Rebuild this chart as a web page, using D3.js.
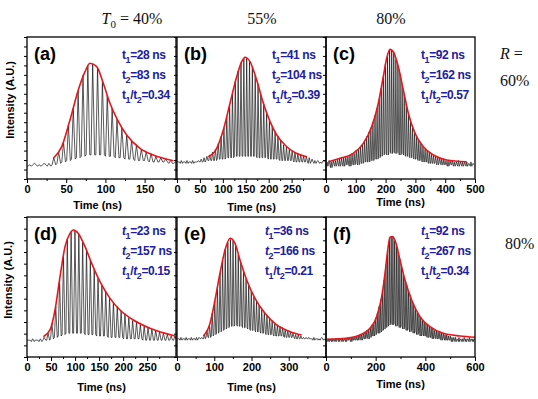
<!DOCTYPE html>
<html><head><meta charset="utf-8">
<script src="https://cdn.jsdelivr.net/npm/d3@7"></script>
<style>body{margin:0;background:#fff}</style>
</head><body><svg id="chart" width="538" height="399"></svg>
<script>
// ---------------- DATA ----------------
const panelNames = ["(a)","(b)","(c)","(d)","(e)","(f)"];
const colHeaders = ["40%","55%","80%"];
const rowHeaders = ["60%","80%"];
const t1Values = [28, 41, 92, 23, 36, 92];
const t2Values = [83, 104, 162, 157, 166, 267];
const ratioValues = ["0.34","0.39","0.57","0.15","0.21","0.34"];
const timeMax = [190, 325, 500, 310, 400, 600];
const aTicks = [0,50,100,150];
const bTicks = [0,50,100,150,200,250];
const cTicks = [0,100,200,300,400,500];
const dTicks = [0,50,100,150,200,250];
const eTicks = [0,100,200,300];
const fTicks = [0,200,400,600];

// red envelopes (time ns, normalised intensity)
const aEnvT = [33.6,44.3,54.8,65.4,74,80.3,88.9,97.3,105.8,114.4,127.1,144.1,161.1,186.6];
const aEnvV = [0.146,0.228,0.415,0.627,0.756,0.815,0.791,0.674,0.533,0.427,0.310,0.216,0.169,0.129];
const bEnvT = [68.3,86.6,101,115.6,130.2,141.1,148.3,159.2,173.8,188.4,203,217.6,239.4,261.2,283];
const bEnvV = [0.157,0.216,0.345,0.533,0.72,0.826,0.857,0.826,0.697,0.533,0.404,0.31,0.227,0.18,0.157];
const cEnvT = [7.8,47,91.6,125.2,153.2,175.4,192.2,203.6,214.8,225.9,242.7,259.5,276.3,298.7,326.8,360.4,405.1,472.2];
const cEnvV = [0.122,0.146,0.181,0.251,0.368,0.533,0.72,0.85,0.913,0.896,0.791,0.627,0.463,0.322,0.227,0.169,0.134,0.122];
const dEnvT = [34,47.9,58.3,68.7,79.1,89.5,96.4,106.8,120.7,134.6,151.9,172.7,193.5,221.2,255.9,307.9];
const dEnvV = [0.145,0.193,0.336,0.574,0.788,0.883,0.907,0.883,0.788,0.669,0.538,0.419,0.336,0.264,0.205,0.15];
const eEnvT = [70.7,88.6,102,115.4,128.9,142.3,155.7,169.1,187.1,209.4,236.2,267.6,303.4,334.8];
const eEnvV = [0.15,0.24,0.407,0.598,0.764,0.848,0.812,0.693,0.55,0.419,0.312,0.229,0.181,0.157];
const fEnvT = [2.7,83.4,136.9,177.2,204.2,224.3,237.6,248.5,257.7,268.5,281.9,298,318.1,345.1,378.5,418.8,472.5,539.6,600];
const fEnvV = [0.126,0.133,0.157,0.205,0.288,0.431,0.598,0.764,0.855,0.86,0.812,0.693,0.55,0.407,0.288,0.217,0.169,0.15,0.141];

// pulse trains: first pulse time, pulse spacing (ns), peak and trough levels (% of full scale)
const pulseStart = [1, 1, 1, 1, 1, 1];
const pulsePeriod = [6.2, 6.2, 7, 8, 7, 7];
const aPeak = [10,11,10,11,11,15,19,26,38,50,62,73,80,81,78,69,59,50,42,36,31,27,24,21,19,18,16,15,14,13,12];
const aLow  = [9,10,9,10,9,10,11,12,13,14,15,16,17,17,17,17,16,16,15,15,14,14,13,13,13,12,12,12,12,11,11];
const bPeak = [12,13,12,13,12,13,12,13,14,15,16,17,19,21,25,30,36,44,52,60,69,76,82,85,85,83,79,73,67,59,53,47,41,37,33,30,27,24,23,21,20,19,18,17,16,16,15,14,13,13,12,13];
const bLow  = [12,11,12,11,12,11,12,12,12,12,13,13,13,13,14,14,14,15,15,15,16,16,16,16,16,16,16,16,15,15,15,15,14,14,14,14,13,13,13,13,13,12,12,12,12,12,11,12,11,12,11,12];
const cPeak = [12,13,12,13,13,14,14,15,15,16,
               16,17,18,18,20,21,23,24,27,30,
               33,36,40,45,50,56,64,72,81,87,
               91,91,89,84,80,74,67,60,53,46,
               41,37,33,30,27,25,23,21,20,19,
               18,17,16,16,15,14,14,13,13,13,
               13,12,12,13,12,12,12,12,11,12,11];
const cLow  = [9,10,8,10,9,10,9,10,9,10,
               10,9,10,10,11,10,11,11,12,12,
               12,13,13,14,14,15,16,17,18,17,
               19,18,19,18,19,17,18,17,16,16,
               15,15,14,14,13,13,12,12,12,11,
               11,11,11,10,11,10,10,10,9,10,
               10,9,10,9,10,9,10,9,10,9,10];
const dPeak = [12,13,12,13,14,17,24,36,55,72,84,89,90,88,82,76,69,63,56,51,47,42,39,36,33,31,28,26,25,23,22,21,20,19,18,17,16,15,15];
const dLow  = [12,11,12,11,12,12,13,14,15,16,17,17,17,17,17,16,16,16,15,15,15,14,14,14,14,13,13,13,13,13,12,12,12,12,12,12,12,12,12];
const ePeak = [13,14,13,14,13,14,13,14,14,14,
               16,19,23,31,40,50,60,69,77,82,
               84,83,79,73,67,61,56,51,47,43,
               40,37,34,32,30,28,26,24,23,22,
               21,20,19,18,17,16,16,15,14,14,
               14,13,14,13,13,14,13];
const eLow  = [13,12,13,12,13,12,13,12,13,13,
               13,14,14,15,16,17,18,19,20,21,
               22,22,23,22,22,21,21,20,19,19,
               18,18,17,17,16,16,16,15,15,15,
               15,14,14,14,14,13,13,13,13,13,
               13,13,12,13,12,13,12];
const fPeak = [12,13,12,13,12,13,13,13,13,13,
               13,13,14,14,14,14,15,15,15,16,
               16,17,18,19,20,21,23,25,28,31,
               36,41,48,55,66,76,84,86,86,83,
               80,75,70,64,59,55,51,47,44,40,
               37,35,32,30,28,27,25,24,23,22,
               21,20,19,19,18,18,17,17,16,16,
               15,15,14,14,14,13,14,13,13,14,
               13,13,14,13,13,13];
const fLow  = [12,11,12,11,12,11,12,11,12,11,
               12,11,12,12,11,12,12,12,12,13,
               12,13,13,14,13,14,15,15,16,17,
               17,18,19,20,21,22,23,24,23,24,
               22,23,21,22,20,21,19,20,18,19,
               17,18,16,17,15,16,15,15,14,14,
               14,13,14,13,13,13,12,13,12,12,
               12,12,11,12,11,12,11,12,11,12,
               11,12,11,12,11,12];

// ---------------- LAYOUT ----------------
const svg = d3.select("#chart");
const colX = [27, 177, 326];
const panelW = 149;
const rowY = [37, 217];
const rowH = [142, 140];
const titleY = [205, 207, 202, 387, 387, 384];
const BLUE = "#20209c";
const RED = "#e8161c";
const SANS = "'Liberation Sans', Arial, sans-serif";
const SERIF = "'Liberation Serif', 'Times New Roman', serif";

const envT = [aEnvT,bEnvT,cEnvT,dEnvT,eEnvT,fEnvT];
const envV = [aEnvV,bEnvV,cEnvV,dEnvV,eEnvV,fEnvV];
const peaks = [aPeak,bPeak,cPeak,dPeak,ePeak,fPeak];
const lows = [aLow,bLow,cLow,dLow,eLow,fLow];
const ticks = [aTicks,bTicks,cTicks,dTicks,eTicks,fTicks];
const italicLines = [[0,0,0],[0,0,0],[0,0,0],[1,1,1],[1,1,0],[1,1,0]];

const defs = svg.append("defs");

panelNames.forEach((name, k) => {
  const col = k % 3, row = Math.floor(k / 3);
  const x0 = colX[col], y0 = rowY[row], h = rowH[row];
  const x = d3.scaleLinear().domain([0, timeMax[k]]).range([x0, x0 + panelW]);
  const y = d3.scaleLinear().domain([0, 1]).range([y0 + h, y0]);

  defs.append("clipPath").attr("id", "clip" + k)
    .append("rect").attr("x", x0).attr("y", y0).attr("width", panelW).attr("height", h);

  const g = svg.append("g");
  const plot = g.append("g").attr("clip-path", `url(#clip${k})`);

  // black pulse train
  const pts = [];
  const per = pulsePeriod[k];
  peaks[k].forEach((pk, i) => {
    const t = pulseStart[k] + i * per;
    const lo = lows[k][i] / 100;
    pts.push([t, lo], [t + 0.35 * per, pk / 100], [t + 0.75 * per, lo]);
  });
  pts.unshift([0, lows[k][0] / 100]);
  plot.append("path").datum(pts)
    .attr("d", d3.line().x(d => x(d[0])).y(d => y(d[1])))
    .attr("fill", "none").attr("stroke", "#111").attr("stroke-width", 0.7);

  // red envelope
  const env = envT[k].map((t, i) => [t, envV[k][i]]);
  plot.append("path").datum(env)
    .attr("d", d3.line().x(d => x(d[0])).y(d => y(d[1])).curve(d3.curveMonotoneX))
    .attr("fill", "none").attr("stroke", RED).attr("stroke-width", 1.6);

  // frame
  g.append("rect").attr("x", x0).attr("y", y0).attr("width", panelW).attr("height", h)
    .attr("fill", "none").attr("stroke", "#000").attr("stroke-width", 1.3);

  // x axis major + minor
  const tv = ticks[k];
  const step = tv[1] - tv[0];
  const minor = [];
  for (let v = step / 2; v < timeMax[k]; v += step) if (!tv.includes(v)) minor.push(v);
  const ax = g.append("g").attr("transform", `translate(0,${y0 + h})`)
    .call(d3.axisBottom(x).tickValues(tv).tickSize(4).tickPadding(2).tickFormat(d3.format("d")));
  ax.select(".domain").remove();
  ax.selectAll("line").attr("stroke-width", 1);
  ax.selectAll("text").attr("font-family", SANS).attr("font-weight", "bold")
    .attr("font-size", 11).attr("fill", "#000");
  const axm = g.append("g").attr("transform", `translate(0,${y0 + h})`)
    .call(d3.axisBottom(x).tickValues(minor).tickSize(2).tickFormat(""));
  axm.select(".domain").remove();

  // y axis small ticks (outward, no labels)
  const yt = d3.range(0, 1.0001, row === 0 ? 1 / 15 : 1 / 12);
  const ay = g.append("g").attr("transform", `translate(${x0},0)`)
    .call(d3.axisLeft(y).tickValues(yt).tickSize(3).tickFormat(""));
  ay.select(".domain").remove();

  // x title
  g.append("text").attr("x", x0 + panelW / 2 + (k === 0 ? -4 : 0))
    .attr("y", titleY[k]).attr("dy", "0.35em")
    .attr("text-anchor", "middle").attr("font-family", SANS).attr("font-weight", "bold")
    .attr("font-size", 11).text("Time (ns)");

  // panel letter
  g.append("text").attr("x", x0 + 7).attr("y", y0 + 17).attr("dy", "0.35em")
    .attr("font-family", SANS).attr("font-weight", "bold").attr("font-size", 18)
    .text(name);

  // annotation lines
  const nx = x0 + (k === 4 ? 88 : 95);
  const ny = y0 + (row === 0 ? 18 : 14);
  const lines = [
    [["t", 0], ["1", 1], ["=" + t1Values[k] + " ns", 0]],
    [["t", 0], ["2", 1], ["=" + t2Values[k] + " ns", 0]],
    [["t", 0], ["1", 1], ["/", 0], ["t", 0], ["2", 1], ["=" + ratioValues[k], 0]]
  ];
  lines.forEach((parts, li) => {
    const tx = g.append("text").attr("x", nx).attr("y", ny + li * 20).attr("dy", "0.35em")
      .attr("font-family", SANS).attr("font-weight", "bold").attr("font-size", 12)
      .attr("fill", BLUE).attr("letter-spacing", -0.4);
    let down = false;
    parts.forEach(([s, sub]) => {
      const ts = tx.append("tspan").text(s);
      if (s === "t" && italicLines[k][li]) ts.attr("font-style", "italic");
      if (sub && !down) { ts.attr("dy", 3.5).attr("font-size", 9); down = true; }
      else if (!sub && down) { ts.attr("dy", -3.5); down = false; }
      else if (sub) ts.attr("font-size", 9);
    });
  });
});

// y titles
[[10, 100], [8, 280]].forEach(([cx, cy]) => {
  svg.append("text").attr("transform", `translate(${cx},${cy}) rotate(-90)`)
    .attr("dy", "0.35em").attr("text-anchor", "middle")
    .attr("font-family", SANS).attr("font-weight", "bold").attr("font-size", 11)
    .text("Intensity (A.U.)");
});

// column headers
const colHeadX = [132, 262, 391];
colHeaders.forEach((s, i) => {
  const t = svg.append("text").attr("x", colHeadX[i]).attr("y", 18).attr("dy", "0.35em")
    .attr("text-anchor", "middle").attr("font-family", SERIF).attr("font-size", 16).attr("fill", "#111");
  if (i === 0) {
    t.append("tspan").attr("font-style", "italic").text("T");
    t.append("tspan").attr("dy", 4).attr("font-size", 11).text("0");
    t.append("tspan").attr("dy", -4).text(" = " + s);
  } else t.text(s);
});

// row headers
const rh1 = svg.append("text").attr("x", 500).attr("y", 53).attr("dy", "0.35em")
  .attr("font-family", SERIF).attr("font-size", 16).attr("fill", "#111");
rh1.append("tspan").attr("font-style", "italic").text("R");
rh1.append("tspan").text(" =");
svg.append("text").attr("x", 500).attr("y", 80).attr("dy", "0.35em")
  .attr("font-family", SERIF).attr("font-size", 16).attr("fill", "#111").text(rowHeaders[0]);
svg.append("text").attr("x", 505).attr("y", 243).attr("dy", "0.35em")
  .attr("font-family", SERIF).attr("font-size", 16).attr("fill", "#111").text(rowHeaders[1]);
</script></body></html>
